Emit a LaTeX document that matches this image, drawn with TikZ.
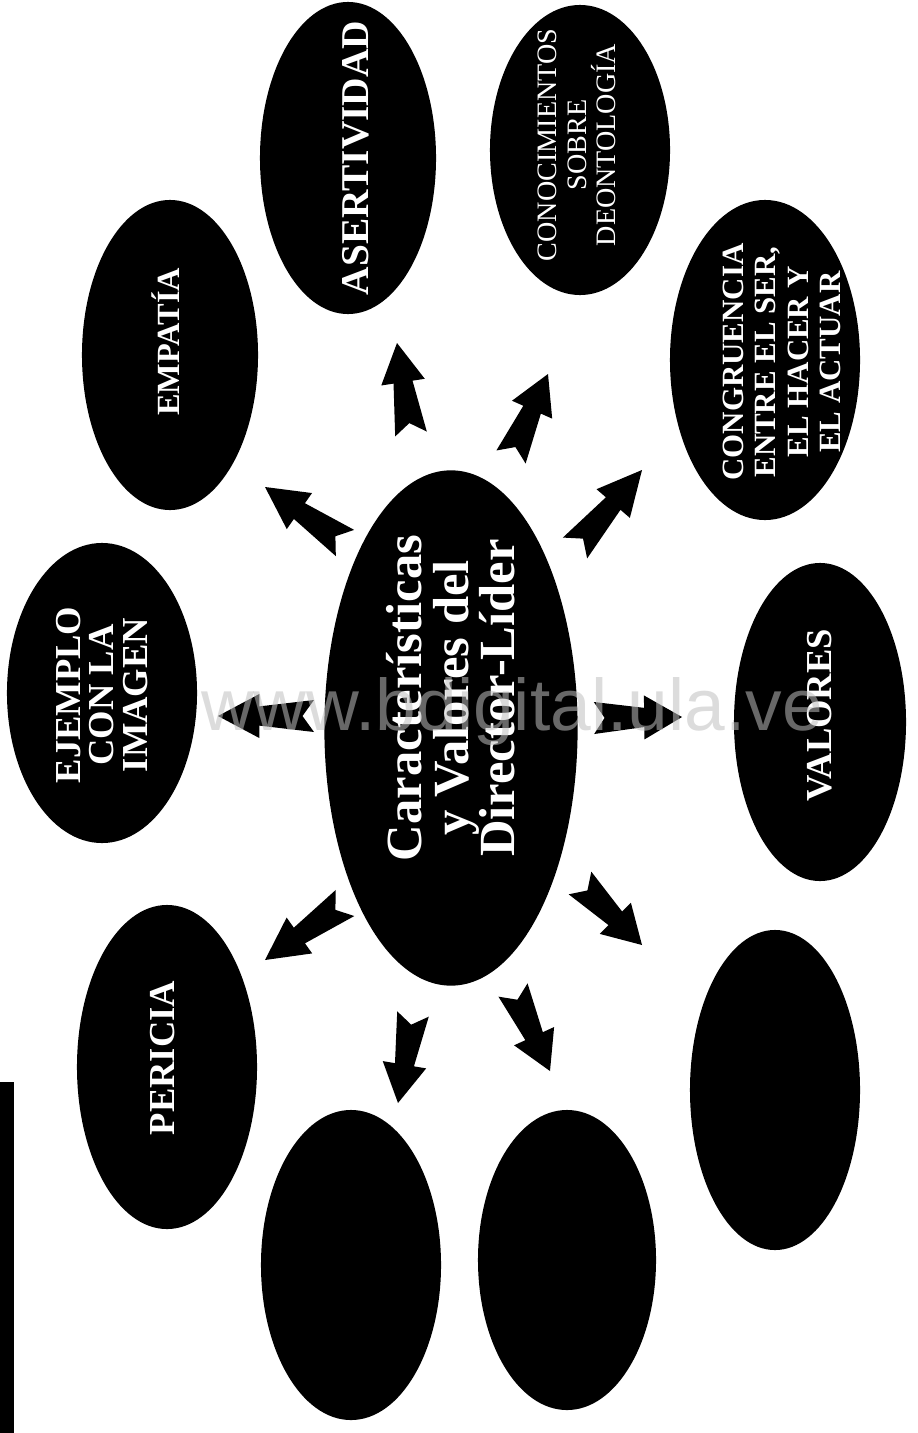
\documentclass[tikz,border=0pt]{standalone}
\usepackage{fontspec}
\setmainfont{Liberation Serif}
\newfontfamily\wmfont{Liberation Sans}
\usetikzlibrary{shapes.geometric,calc}

% block arrow with notched tail, from tail point to tip point
\newcommand\blockarrow[2]{%
  \path (#1) -- coordinate[pos=0.57] (hb) coordinate[pos=0.12] (nt) (#2);
  \fill (#2) -- ($(hb)!0.55cm!90:(#2)$) -- ($(hb)!0.24cm!90:(#2)$)
    -- ($(#1)!0.4cm!90:(#2)$) -- (nt) -- ($(#1)!0.4cm!-90:(#2)$)
    -- ($(hb)!0.24cm!-90:(#2)$) -- ($(hb)!0.55cm!-90:(#2)$) -- cycle;}

\begin{document}
\begin{tikzpicture}[
    x=0.025cm, y=-0.025cm,
    bubble/.style={ellipse, fill=black, inner sep=0pt, outer sep=0pt},
    bubtext/.style={text=white, rotate=90, align=center, inner sep=0pt},
    watermark/.style={font=\wmfont\fontsize{52}{52}\selectfont, text=black!25, text opacity=0.55},
]
\useasboundingbox (0,0) rectangle (917,1433);

% Centre
\node[bubble, minimum width=6.33cm, minimum height=12.88cm] (lider) at (451,728) {};
\node[bubtext, font=\bfseries\fontsize{36}{33}\selectfont] (lidertxt) at (451,698)
    {Características\\y Valores del\\Director-Líder};

% Outer ellipses
\node[bubble, minimum width=4.4cm, minimum height=7.8cm] (asert) at (348,158) {};
\node[bubble, minimum width=4.5cm, minimum height=7.25cm] (conoc) at (580,150) {};
\node[bubble, minimum width=4.75cm, minimum height=8.0cm] (congr) at (765,360) {};
\node[bubble, minimum width=4.4cm, minimum height=7.75cm] (empat) at (170,355) {};
\node[bubble, minimum width=4.75cm, minimum height=7.5cm] (ejemp) at (102,693) {};
\node[bubble, minimum width=4.3cm, minimum height=7.95cm] (valor) at (820,722) {};
\node[bubble, minimum width=4.5cm, minimum height=8.1cm] (peric) at (167,1067) {};
\node[bubble, minimum width=4.5cm, minimum height=7.75cm] (blanka) at (351,1265) {};
\node[bubble, minimum width=4.45cm, minimum height=7.5cm] (blankb) at (567,1260) {};
\node[bubble, minimum width=4.25cm, minimum height=8.0cm] (blankc) at (775,1090) {};

% Labels
\node[bubtext, font=\bfseries\fontsize{28}{28}\selectfont] (asertxt) at (356,158) {ASERTIVIDAD};
\node[bubtext, font=\fontsize{20}{21}\selectfont] (conoctxt) at (577,145)
    {CONOCIMIENTOS\\SOBRE\\DEONTOLOGÍA};
\node[bubtext, font=\bfseries\fontsize{22}{23}\selectfont] (congrtxt) at (782,362)
    {CONGRUENCIA\\ENTRE EL SER,\\EL HACER Y\\EL ACTUAR};
\node[bubtext, font=\bfseries\fontsize{23}{23}\selectfont] (empattxt) at (166,342) {EMPATÍA};
\node[bubtext, font=\bfseries\fontsize{26}{24}\selectfont] (ejemptxt) at (102,695)
    {EJEMPLO\\CON LA\\IMAGEN};
\node[bubtext, font=\bfseries\fontsize{26}{26}\selectfont] (valortxt) at (820,715) {VALORES};
\node[bubtext, font=\bfseries\fontsize{26}{26}\selectfont] (perictxt) at (163,1058) {PERICIA};

% Arrows: tail and tip points
\coordinate (t1) at (411,434);  \coordinate (p1) at (397,343);
\coordinate (t2) at (511,457);  \coordinate (p2) at (548,374);
\coordinate (t3) at (575,548);  \coordinate (p3) at (642,470);
\coordinate (t4) at (594,718);  \coordinate (p4) at (682,717);
\coordinate (t5) at (580,883);  \coordinate (p5) at (642,945);
\coordinate (t6) at (513,990);  \coordinate (p6) at (550,1071);
\coordinate (t7) at (413,1014); \coordinate (p7) at (398,1103);
\coordinate (t8) at (345,903);  \coordinate (p8) at (265,960);
\coordinate (t9) at (314,716);  \coordinate (p9) at (218,716);
\coordinate (t10) at (345,543); \coordinate (p10) at (265,487);
\foreach \i in {1,...,10} {\blockarrow{t\i}{p\i}}

% scan edge
\fill (0,1082) rectangle (14,1433);

% watermark
\node[watermark] (wm) at (512,712) {www.bdigital.ula.ve};
\end{tikzpicture}
\end{document}
